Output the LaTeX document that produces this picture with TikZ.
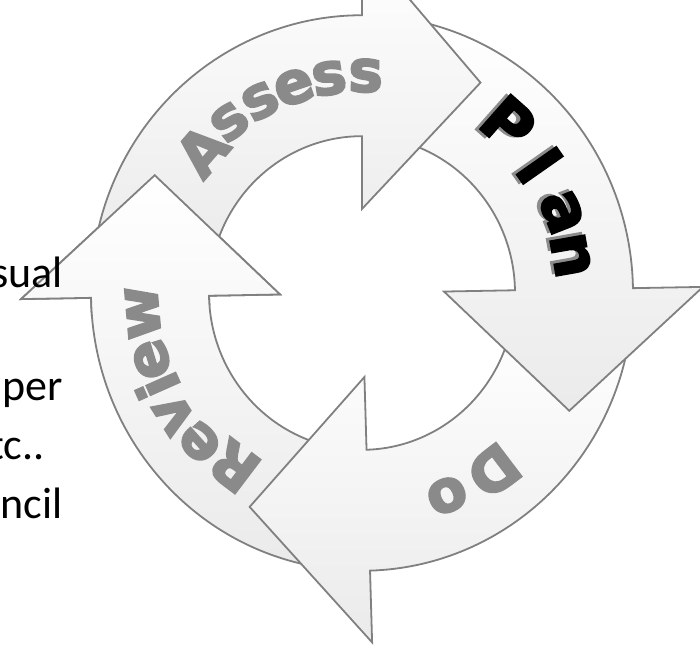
\documentclass[tikz,border=0pt]{standalone}
\usepackage{fontspec}
\usepackage{tikz}
\usetikzlibrary{positioning}
\newfontfamily\slidefont{Carlito}
\newfontfamily\arrowfont[FakeBold=3.5]{DejaVu Sans}
\definecolor{ringline}{HTML}{808080}
\definecolor{ringtext}{HTML}{8A8A8A}

% radii of the ring and of the arrow heads
\newcommand{\Rout}{271}
\newcommand{\Rin}{153}
\newcommand{\Rflare}{341}
\newcommand{\rflare}{82}
\newcommand{\Rtip}{237}
% one curved arrow, head base at angle #1, tail hidden under the previous head
\newcommand{\cyclepath}[1]{(#1+78:\Rout) arc[start angle=#1+78, end angle=#1, radius=\Rout]
  -- (#1:\Rflare) -- (#1-30:\Rtip) -- (#1:\rflare) -- (#1:\Rin)
  arc[start angle=#1, end angle=#1+78, radius=\Rin] -- cycle}

\begin{document}
\begin{tikzpicture}[
    x=1pt, y=1pt,
    cyclearrow/.style={
        draw=ringline,
        line width=1.8pt,
        line join=miter,
        top color=white,
        bottom color=black!8
    },
    arrowletter/.style={
        inner sep=0pt,
        font=\arrowfont\bfseries\fontsize{58}{58}\selectfont,
        text=ringtext
    },
    planletter/.style={
        arrowletter,
        font=\arrowfont\bfseries\fontsize{63}{63}\selectfont,
        text=black
    },
    planshadow/.style={
        planletter,
        text=black!45
    },
    slidetext/.style={
        inner sep=0pt,
        font=\slidefont\fontsize{44}{44}\selectfont
    }
  ]
  \useasboundingbox (-362,-358) rectangle (338,293);

  \begin{scope}[yscale=1.025]
    % We start by drawing the four arrows: Review, Do, Plan, Assess
    \foreach \b in {181,-88.3,1,90}
      \draw [cyclearrow] \cyclepath{\b};
    % head of Review goes over the tail of Assess
    \begin{scope}
      \clip (0,0) -- (185:420) arc[start angle=185, end angle=135, radius=420] -- cycle;
      \draw [cyclearrow] \cyclepath{181};
    \end{scope}

    % labels
    \foreach \ch/\a/\r [count=\i] in {A/139/212, s/128.4/213, s/118.5/213, e/108.7/212, s/98.9/212, s/89/212}
      \node [arrowletter, rotate=\a-90] (assess-\i) at (\a:\r) {\ch};
    \foreach \ch/\a/\r [count=\i] in {P/48.5/221, l/35/217, a/21.5/215, n/10/212}
      \node [planshadow, rotate=\a-90, xshift=-3pt, yshift=-3pt] (planshadow-\i) at (\a:\r) {\ch};
    \foreach \ch/\a/\r [count=\i] in {P/48.5/221, l/35/217, a/21.5/215, n/10/212}
      \node [planletter, rotate=\a-90] (plan-\i) at (\a:\r) {\ch};
    \foreach \ch/\a/\r [count=\i] in {D/-52.8/218, o/-66.7/215}
      \node [arrowletter, rotate=\a-90] (do-\i) at (\a:\r) {\ch};
    \foreach \ch/\a/\r [count=\i] in {R/232.9/212, e/221.9/218, v/212.2/222, i/204/224, e/197.1/220, w/185/220}
      \node [arrowletter, rotate=\a-90] (review-\i) at (\a:\r) {\ch};
  \end{scope}

  % text of the slide, in front of the cycle
  \node [slidetext, anchor=base east] (sual) at (-299,6) {sual};
  \node [slidetext, anchor=base east] (per) at (-299,-107) {per};
  \node [slidetext, anchor=base east] (tc) at (-317,-166) {tc..};
  \node [slidetext, anchor=base east] (ncil) at (-299,-225) {ncil};
\end{tikzpicture}
\end{document}
